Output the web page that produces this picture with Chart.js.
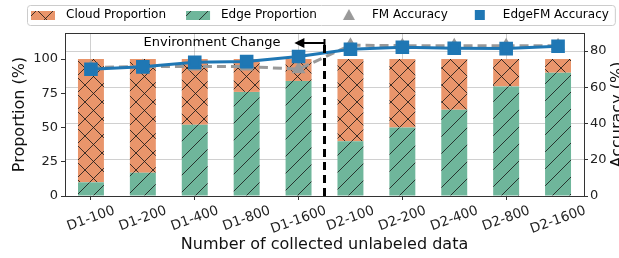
<!DOCTYPE html>
<html>
<head>
<meta charset="utf-8">
<script src="https://cdn.jsdelivr.net/npm/chart.js@4"></script>
<style>
  body { margin: 0; background: #fff; }
</style>
</head>
<body>
<canvas id="c" width="619" height="258"></canvas>
<script>
// datos
const categorias = ["D1-100", "D1-200", "D1-400", "D1-800", "D1-1600", "D2-100", "D2-200", "D2-400", "D2-800", "D2-1600"];
const edgeProp = [10, 17, 52, 76, 84, 40, 50, 63, 80, 90];
const cloudProp = [90, 83, 48, 24, 16, 60, 50, 37, 20, 10];
const fmAcc = [71, 71.5, 71.5, 71.5, 70, 83.3, 83, 83, 83, 83];
const edgefmAcc = [70, 71.3, 73.8, 74.2, 77, 81, 82.1, 81.6, 81.4, 82.7];
const propTicks = [0, 25, 50, 75, 100];
const accTicks = [0, 20, 40, 60, 80];

const NARANJA = "#e9956b";
const VERDE = "#6fb69b";
const AZUL = "#1f77b4";
const GRIS = "#999999";
const FUENTE = "'DejaVu Sans', sans-serif";

const canvas = document.getElementById("c");
const ctxMain = canvas.getContext("2d");

// trama rayada tipo matplotlib
function trama(color, cruz) {
  const s = 17;
  const t = document.createElement("canvas");
  t.width = s; t.height = s;
  const g = t.getContext("2d");
  g.fillStyle = color;
  g.fillRect(0, 0, s, s);
  g.strokeStyle = "rgba(20,20,20,0.8)";
  g.lineWidth = 1;
  g.beginPath();
  g.moveTo(-2, s + 2); g.lineTo(s + 2, -2);
  if (cruz) {
    g.moveTo(-2, -2); g.lineTo(s + 2, s + 2);
  }
  g.stroke();
  return ctxMain.createPattern(t, "repeat");
}

const tramaCloud = trama(NARANJA, true);
const tramaEdge = trama(VERDE, false);

// iconos de la leyenda (con margen transparente a la izquierda)
const ICON_W = 40;
function iconoParche(pat) {
  const c = document.createElement("canvas");
  c.width = ICON_W; c.height = 10;
  const g = c.getContext("2d");
  g.fillStyle = pat;
  g.fillRect(ICON_W - 29, 1, 24, 9);
  return c;
}
function iconoMarca(tipo, color) {
  const c = document.createElement("canvas");
  c.width = ICON_W; c.height = 12;
  const g = c.getContext("2d");
  const cx = ICON_W - 17, cy = 6;
  g.fillStyle = color;
  g.beginPath();
  if (tipo === "tri") {
    g.moveTo(cx, cy - 6); g.lineTo(cx + 6, cy + 5); g.lineTo(cx - 6, cy + 5);
  } else {
    g.rect(cx - 5, cy - 5, 10, 10);
  }
  g.closePath();
  g.fill();
  return c;
}

const iconos = [
  iconoParche(tramaCloud),
  iconoParche(tramaEdge),
  iconoMarca("tri", GRIS),
  iconoMarca("sq", AZUL),
];
const textosLeyenda = ["Cloud Proportion", "Edge Proportion", "FM Accuracy", "EdgeFM Accuracy"];

// marco superior, anotaciones y títulos de ejes
const extras = {
  id: "extras",
  afterDatasetsDraw(chart) {
    const { ctx, chartArea, scales } = chart;
    const x = scales.x, yA = scales.yAcc;
    const xm = (x.getPixelForValue(4) + x.getPixelForValue(5)) / 2;
    const yTop = yA.getPixelForValue(84.5);
    ctx.save();
    ctx.strokeStyle = "#000";
    ctx.lineWidth = 3;
    ctx.setLineDash([8, 5]);
    ctx.beginPath();
    ctx.moveTo(xm, yTop + 2);
    ctx.lineTo(xm, chartArea.bottom);
    ctx.stroke();
    ctx.restore();
  },
  afterDraw(chart) {
    const { ctx, chartArea, scales } = chart;
    const x = scales.x, yA = scales.yAcc;
    ctx.save();
    // caja del área
    ctx.strokeStyle = "#333";
    ctx.lineWidth = 1;
    ctx.strokeRect(chartArea.left + 0.5, chartArea.top + 0.5, chartArea.right - chartArea.left, chartArea.bottom - chartArea.top);

    // flecha "Environment Change"
    const xm = (x.getPixelForValue(4) + x.getPixelForValue(5)) / 2;
    const ya = yA.getPixelForValue(84.5);
    const xh = x.getPixelForValue(3.92);
    ctx.strokeStyle = "#000";
    ctx.fillStyle = "#000";
    ctx.lineWidth = 2;
    ctx.beginPath();
    ctx.moveTo(xm + 1, ya); ctx.lineTo(xh + 6, ya);
    ctx.moveTo(xm, ya - 4); ctx.lineTo(xm, ya + 2);
    ctx.stroke();
    ctx.beginPath();
    ctx.moveTo(xh, ya); ctx.lineTo(xh + 10, ya - 5); ctx.lineTo(xh + 10, ya + 5);
    ctx.closePath();
    ctx.fill();
    ctx.font = "13px " + FUENTE;
    ctx.textAlign = "right";
    ctx.textBaseline = "middle";
    ctx.fillText("Environment Change", xh - 14, ya);

    // etiquetas del eje x rotadas 20°, centradas en la marca
    ctx.font = "13.5px " + FUENTE;
    ctx.fillStyle = "#222";
    ctx.textAlign = "center";
    const ang = 20 * Math.PI / 180;
    categorias.forEach((lab, i) => {
      const w = ctx.measureText(lab).width;
      const h = 11;
      const px = x.getPixelForValue(i);
      const py = chartArea.bottom + 9 + (w * Math.sin(ang) + h * Math.cos(ang)) / 2;
      ctx.save();
      ctx.translate(px, py);
      ctx.rotate(-ang);
      ctx.fillText(lab, 0, 0);
      ctx.restore();
    });

    // títulos de los ejes y
    ctx.font = "16px " + FUENTE;
    ctx.fillStyle = "#111";
    const cy = (chartArea.top + chartArea.bottom) / 2;
    ctx.save();
    ctx.translate(20, cy);
    ctx.rotate(-Math.PI / 2);
    ctx.fillText("Proportion (%)", 0, 0);
    ctx.restore();
    ctx.save();
    ctx.translate(618, cy);
    ctx.rotate(-Math.PI / 2);
    ctx.fillText("Accuracy (%)", 0, 0);
    ctx.restore();

    // marco de la leyenda
    const hb = chart.legend.legendHitBoxes;
    if (hb && hb.length) {
      const first = hb[0], last = hb[hb.length - 1];
      const l = first.left + ICON_W - 29 - 4;
      const r = last.left + last.width + 6;
      const cyL = first.top + first.height / 2;
      ctx.strokeStyle = "#cccccc";
      ctx.lineWidth = 1;
      ctx.beginPath();
      ctx.roundRect(l + 0.5, cyL - 10 + 0.5, r - l, 20, 3);
      ctx.stroke();
    }
    ctx.restore();
  },
};

function soloTicks(lista) {
  return (axis) => {
    axis.ticks = lista.map((v) => ({ value: v }));
  };
}

new Chart(ctxMain, {
  data: {
    labels: categorias,
    datasets: [
      {
        type: "line",
        label: "EdgeFM Accuracy",
        data: edgefmAcc,
        yAxisID: "yAcc",
        borderColor: AZUL,
        backgroundColor: AZUL,
        borderWidth: 3,
        pointStyle: "rect",
        pointRadius: 7.5,
        pointHoverRadius: 7.5,
        order: 0,
      },
      {
        type: "line",
        label: "FM Accuracy",
        data: fmAcc,
        yAxisID: "yAcc",
        borderColor: GRIS,
        backgroundColor: GRIS,
        borderWidth: 3,
        borderDash: [9, 5],
        pointStyle: "triangle",
        pointRadius: 5,
        order: 1,
      },
      {
        type: "bar",
        label: "Edge Proportion",
        data: edgeProp,
        yAxisID: "y",
        backgroundColor: tramaEdge,
        categoryPercentage: 0.5,
        barPercentage: 1,
        order: 2,
      },
      {
        type: "bar",
        label: "Cloud Proportion",
        data: cloudProp,
        yAxisID: "y",
        backgroundColor: tramaCloud,
        categoryPercentage: 0.5,
        barPercentage: 1,
        order: 3,
      },
    ],
  },
  options: {
    responsive: false,
    animation: false,
    layout: { padding: { left: 11, top: 0, right: 0, bottom: 0 } },
    plugins: {
      tooltip: { enabled: false },
      title: {
        display: true,
        text: " ",
        weight: 100,
        padding: 0,
        font: { size: 1, lineHeight: 2 },
      },
      legend: {
        align: "start",
        onClick: null,
        labels: {
          usePointStyle: true,
          pointStyleWidth: ICON_W,
          padding: 9,
          color: "#222",
          font: { family: FUENTE, size: 12 },
          generateLabels: () =>
            textosLeyenda.map((t, i) => ({
              text: t,
              pointStyle: iconos[i],
              fillStyle: "transparent",
              strokeStyle: "transparent",
              lineWidth: 0,
              datasetIndex: i,
            })),
        },
      },
    },
    scales: {
      x: {
        stacked: true,
        offset: true,
        z: 1,
        afterFit: (s) => { s.height = 62; },
        grid: { offset: false, color: "rgba(120,120,120,0.35)", tickColor: "#333", tickLength: 4 },
        border: { color: "#333" },
        ticks: { color: "transparent", font: { family: FUENTE, size: 13 }, minRotation: 20, maxRotation: 20 },
        title: {
          display: true,
          text: "Number of collected unlabeled data",
          color: "#111",
          font: { family: FUENTE, size: 16 },
          padding: { top: 0, bottom: 4 },
        },
      },
      y: {
        stacked: true,
        position: "left",
        min: 0,
        max: 119,
        afterFit: (s) => { s.width = 54; },
        afterBuildTicks: soloTicks(propTicks),
        grid: { drawOnChartArea: false, tickColor: "#333", tickLength: 4 },
        border: { color: "#333" },
        ticks: { color: "#222", padding: 3, font: { family: FUENTE, size: 13 } },
      },
      yAcc: {
        position: "right",
        min: 0,
        max: 90,
        z: 1,
        afterFit: (s) => { s.width = 35; },
        afterBuildTicks: soloTicks(accTicks),
        grid: { color: "rgba(120,120,120,0.35)", tickColor: "#333", tickLength: 4 },
        border: { color: "#333" },
        ticks: { color: "#222", padding: 2, font: { family: FUENTE, size: 13 } },
      },
    },
  },
  plugins: [extras],
});
</script>
</body>
</html>
